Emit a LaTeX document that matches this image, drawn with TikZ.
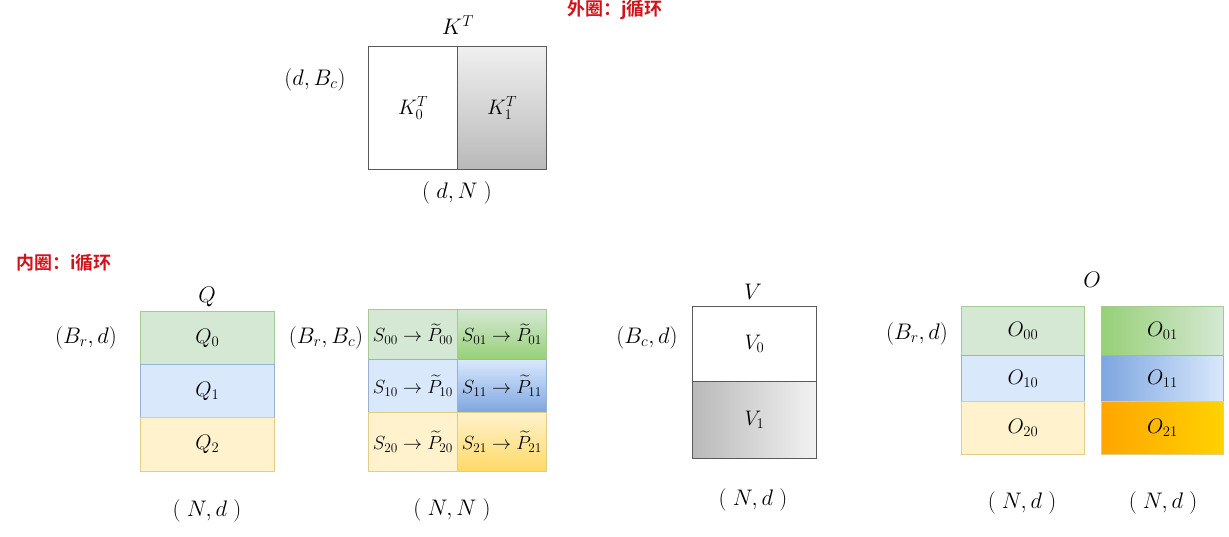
\RequirePackage{fix-cm}
\documentclass[tikz,border=0pt]{standalone}
\usepackage{fontspec}
\usepackage{amsmath}
\newfontfamily\cjk{Noto Sans CJK SC}[BoldFont={Noto Sans CJK SC Bold}]
\definecolor{gL}{HTML}{D5E8D4}\definecolor{gS}{HTML}{82B366}\definecolor{gD}{HTML}{97D077}
\definecolor{bL}{HTML}{DAE8FC}\definecolor{bS}{HTML}{6C8EBF}\definecolor{bD}{HTML}{7EA6E0}
\definecolor{yL}{HTML}{FFF2CC}\definecolor{yS}{HTML}{D6B656}\definecolor{yD}{HTML}{FFD966}
\definecolor{oL}{HTML}{FFA500}\definecolor{oR}{HTML}{FFD200}
\definecolor{bx}{HTML}{5A5A5A}
\definecolor{redt}{HTML}{D0121B}
\begin{document}
\begin{tikzpicture}[x=1pt,y=-1pt,
  lbl/.style={font=\fontsize{22.5}{26}\selectfont, inner sep=0},
  cl/.style={font=\fontsize{21}{24}\selectfont, inner sep=0, anchor=north west},
  scl/.style={font=\fontsize{19}{22}\selectfont, inner sep=0, anchor=north west},
  title/.style={font=\cjk\bfseries\fontsize{18}{21}\selectfont, text=redt, inner sep=0},
  graybox/.style={draw=bx, line width=1.1pt},
  gcell/.style={draw=gS!70, line width=0.8pt, fill=gL},
  bcell/.style={draw=bS!70, line width=0.8pt, fill=bL},
  ycell/.style={draw=yS!70, line width=0.8pt, fill=yL}]
\useasboundingbox (0,0) rectangle (1229,537);

% ---------- titles ----------
\node[title, anchor=west] (outer) at (567,10) {外圈：j循环};
\node[title, anchor=west] (inner) at (16,263) {内圈：i循环};

% ---------- K^T ----------
\node[lbl] (KT) at (458,25) {$K^T$};
\node[cl, graybox, fill=white, minimum width=89pt, minimum height=123pt] (K0) at (368,46) {$K^T_0$};
\node[cl, graybox, top color=gray!12, bottom color=gray!55, minimum width=89pt, minimum height=123pt] (K1) at (457,46) {$K^T_1$};
\node[lbl] (Kl) at (315,80) {$(d,B_c)$};
\node[lbl] (Kb) at (457,193) {$(\;d,N\;)$};

% ---------- Q ----------
\node[lbl] (Ql) at (207,297) {$Q$};
\node[cl, gcell, minimum width=134pt, minimum height=53pt] (Q0) at (140,311) {$Q_0$};
\node[cl, bcell, minimum width=134pt, minimum height=53pt] (Q1) at (140,364) {$Q_1$};
\node[cl, ycell, minimum width=134pt, minimum height=54pt] (Q2) at (140,417) {$Q_2$};
\node[lbl] (Qs) at (86,338) {$(B_r,d)$};
\node[lbl] (Qb) at (207,511) {$(\;N,d\;)$};

% ---------- S / P ----------
\node[scl, gcell, minimum width=89pt, minimum height=50pt] (S00) at (368,309) {$S_{00}\rightarrow\widetilde{P}_{00}$};
\node[scl, bcell, minimum width=89pt, minimum height=53pt] (S10) at (368,359) {$S_{10}\rightarrow\widetilde{P}_{10}$};
\node[scl, ycell, minimum width=89pt, minimum height=59pt] (S20) at (368,412) {$S_{20}\rightarrow\widetilde{P}_{20}$};
\node[scl, gcell, top color=gL, bottom color=gD, minimum width=89pt, minimum height=50pt] (S01) at (457,309) {$S_{01}\rightarrow\widetilde{P}_{01}$};
\node[scl, bcell, top color=bL, bottom color=bD, minimum width=89pt, minimum height=53pt] (S11) at (457,359) {$S_{11}\rightarrow\widetilde{P}_{11}$};
\node[scl, ycell, top color=yL, bottom color=yD, minimum width=89pt, minimum height=59pt] (S21) at (457,412) {$S_{21}\rightarrow\widetilde{P}_{21}$};
\node[lbl] (Ss) at (326,338) {$(B_r,B_c)$};
\node[lbl] (Sb) at (452,510) {$(\;N,N\;)$};

% ---------- V ----------
\node[lbl] (Vl) at (753,292) {$V$};
\node[cl, graybox, fill=white, minimum width=124pt, minimum height=75pt] (V0) at (692,306) {$V_0$};
\node[cl, graybox, left color=gray!55, right color=gray!10, minimum width=124pt, minimum height=77pt] (V1) at (692,381) {$V_1$};
\node[lbl] (Vs) at (647,338) {$(B_c,d)$};
\node[lbl] (Vb) at (753,500) {$(\;N,d\;)$};

% ---------- O ----------
\node[lbl] (Ol) at (1092,280) {$O$};
\node[cl, gcell, minimum width=123pt, minimum height=49pt] (O00) at (961,306) {$O_{00}$};
\node[cl, bcell, minimum width=123pt, minimum height=46pt] (O10) at (961,355) {$O_{10}$};
\node[cl, ycell, minimum width=123pt, minimum height=53pt] (O20) at (961,401) {$O_{20}$};
\node[cl, gcell, left color=gD, right color=gL, minimum width=122pt, minimum height=49pt] (O01) at (1101,306) {$O_{01}$};
\node[cl, bcell, left color=bD, right color=bL, minimum width=122pt, minimum height=46pt] (O11) at (1101,355) {$O_{11}$};
\node[cl, ycell, left color=oL, right color=oR, minimum width=122pt, minimum height=53pt] (O21) at (1101,401) {$O_{21}$};
\node[lbl] (Os) at (917,334) {$(B_r,d)$};
\node[lbl] (Ob1) at (1022,503) {$(\;N,d\;)$};
\node[lbl] (Ob2) at (1163,503) {$(\;N,d\;)$};
\end{tikzpicture}
\end{document}
